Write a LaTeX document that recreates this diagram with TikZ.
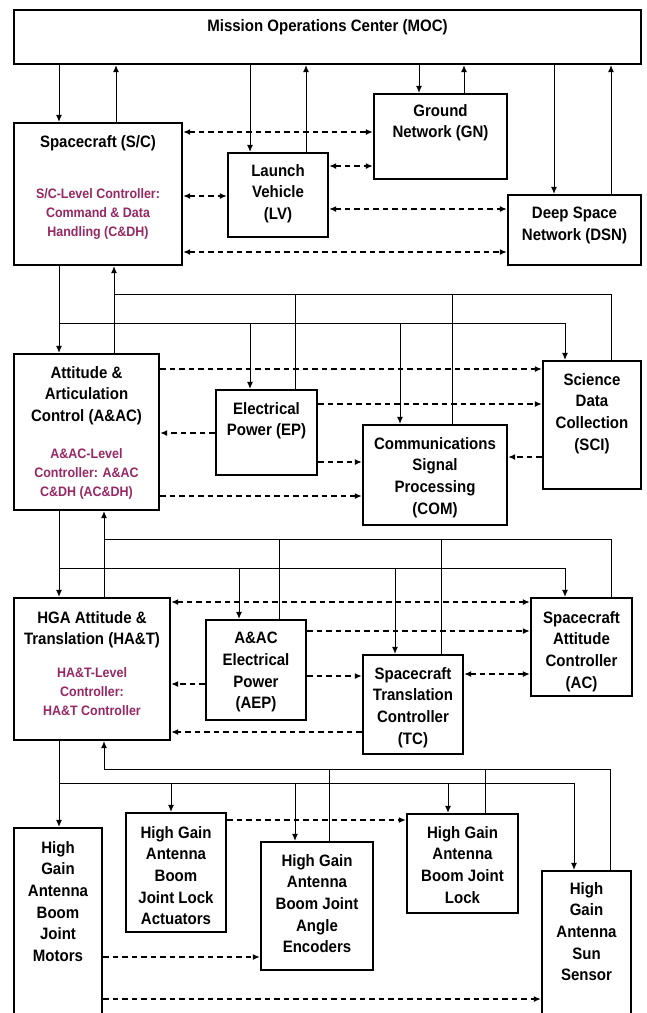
\documentclass[tikz,border=0pt]{standalone}
\usepackage{fontspec}
\setmainfont{Liberation Sans}[FakeStretch=0.91]
\usetikzlibrary{arrows.meta}
\definecolor{ctrlpurple}{RGB}{150,40,100}
\tikzset{
  blk/.style={draw, line width=2.3pt, inner sep=0pt},
  lbl/.style={font=\bfseries\fontsize{16.5}{21.7}\selectfont, align=center, inner sep=0pt, anchor=north},
  ctl/.style={font=\bfseries\fontsize{13.7}{19}\selectfont, text=ctrlpurple, align=center, inner sep=0pt, anchor=north},
  link/.style={line width=1pt, ->},
  wire/.style={line width=1pt},
  flow/.style={line width=1.5pt, dash pattern=on 5.5pt off 4pt},
}
% box from (x1,y1) to (x2,y2), y measured downwards
\newcommand{\blkbox}[5]{\node[blk, minimum width={#4-#2}, minimum height={#5-#3}] (#1) at ({(#2+#4)/2},{(#3+#5)/2}) {};}
\begin{document}
\begin{tikzpicture}[x=1pt, y=-1pt, >={Latex[length=7pt,width=6pt]}]
\clip (0,0) rectangle (646,1013);
\fill[white] (0,0) rectangle (646,1013);

% ---------- boxes ----------
\blkbox{moc}{14}{10}{641}{64}
\blkbox{sc}{14}{123}{182}{265}
\blkbox{lv}{228}{153}{328}{237}
\blkbox{gn}{374}{94}{507}{179}
\blkbox{dsn}{508}{195}{641}{265}
\blkbox{aa}{14}{354}{159}{510}
\blkbox{ep}{216}{390}{317}{475}
\blkbox{com}{363}{425}{507}{525}
\blkbox{sci}{543}{361}{641}{489}
\blkbox{hat}{14}{598}{170}{740}
\blkbox{aep}{206}{620}{306}{720}
\blkbox{tc}{363}{655}{463}{754}
\blkbox{ac}{531}{598}{632}{696}
\blkbox{mot}{14}{828}{102}{1030}
\blkbox{jla}{126}{813}{226}{932}
\blkbox{enc}{261}{842}{373}{970}
\blkbox{lock}{407}{814}{518}{913}
\blkbox{sun}{542}{871}{631}{1030}

% ---------- labels ----------
\node[lbl] (moct) at (moc.north |- 0,18.9) {Mission Operations Center (MOC)};
\node[lbl] (sct) at (sc.north |- 0,134.9) {Spacecraft (S/C)};
\node[ctl] (scc) at (sc.north |- 0,188) {S/C-Level Controller:\\Command \& Data\\Handling (C\&DH)};
\node[lbl] (lvt) at (lv.north |- 0,163.9) {Launch\\Vehicle\\(LV)};
\node[lbl] (gnt) at (gn.north |- 0,103.9) {Ground\\Network (GN)};
\node[lbl] (dsnt) at (dsn.north |- 0,206.9) {Deep Space\\Network (DSN)};
\node[lbl] (aat) at (aa.north |- 0,365.9) {Attitude \&\\Articulation\\Control (A\&AC)};
\node[ctl] (aac) at (aa.north |- 0,448) {A\&AC-Level\\Controller: A\&AC\\C\&DH (AC\&DH)};
\node[lbl] (ept) at (ep.north |- 0,401.9) {Electrical\\Power (EP)};
\node[lbl] (comt) at (com.north |- 0,436.9) {Communications\\Signal\\Processing\\(COM)};
\node[lbl] (scit) at (sci.north |- 0,372.9) {Science\\Data\\Collection\\(SCI)};
\node[lbl] (hatt) at (hat.north |- 0,610.9) {HGA Attitude \&\\Translation (HA\&T)};
\node[ctl] (hatc) at (hat.north |- 0,667) {HA\&T-Level\\Controller:\\HA\&T Controller};
\node[lbl] (aept) at (aep.north |- 0,631.9) {A\&AC\\Electrical\\Power\\(AEP)};
\node[lbl] (tct) at (tc.north |- 0,666.9) {Spacecraft\\Translation\\Controller\\(TC)};
\node[lbl] (act) at (ac.north |- 0,610.9) {Spacecraft\\Attitude\\Controller\\(AC)};
\node[lbl] (mott) at (mot.north |- 0,840.9) {High\\Gain\\Antenna\\Boom\\Joint\\Motors};
\node[lbl] (jlat) at (jla.north |- 0,825.9) {High Gain\\Antenna\\Boom\\Joint Lock\\Actuators};
\node[lbl] (enct) at (enc.north |- 0,853.9) {High Gain\\Antenna\\Boom Joint\\Angle\\Encoders};
\node[lbl] (lockt) at (lock.north |- 0,825.9) {High Gain\\Antenna\\Boom Joint\\Lock};
\node[lbl] (sunt) at (sun.north |- 0,881.9) {High\\Gain\\Antenna\\Sun\\Sensor};

% ---------- MOC links ----------
\draw[link] (59,0 |- moc.south) -- (59,0 |- sc.north);
\draw[link] (116,0 |- sc.north) -- (116,0 |- moc.south);
\draw[link] (250,0 |- moc.south) -- (250,0 |- lv.north);
\draw[link] (306,0 |- lv.north) -- (306,0 |- moc.south);
\draw[link] (419,0 |- moc.south) -- (419,0 |- gn.north);
\draw[link] (464,0 |- gn.north) -- (464,0 |- moc.south);
\draw[link] (554,0 |- moc.south) -- (554,0 |- dsn.north);
\draw[link] (611,0 |- dsn.north) -- (611,0 |- moc.south);

% ---------- spacecraft level data flows ----------
\draw[flow,<->] (sc.east |- 0,132) -- (gn.west |- 0,132);
\draw[flow,<->] (lv.east |- 0,166) -- (gn.west |- 0,166);
\draw[flow,<->] (sc.east |- 0,196) -- (lv.west |- 0,196);
\draw[flow,<->] (lv.east |- 0,209) -- (dsn.west |- 0,209);
\draw[flow,<->] (sc.east |- 0,252) -- (dsn.west |- 0,252);

% ---------- S/C to subsystems ----------
\coordinate (fbA) at (114,294);
\coordinate (cbA) at (59,323);
\draw[link] (59,0 |- sc.south) -- (59,0 |- aa.north);
\draw[link] (114,0 |- aa.north) -- (114,0 |- sc.south);
\draw[wire] (611,0 |- sci.north) |- (fbA);
\draw[wire] (295,0 |- ep.north) -- (fbA -| 295,0);
\draw[wire] (452,0 |- com.north) -- (fbA -| 452,0);
\draw[link] (cbA) -| (565,0 |- sci.north);
\draw[link] (cbA -| 250,0) -- (250,0 |- ep.north);
\draw[link] (cbA -| 400,0) -- (400,0 |- com.north);

\draw[flow,->] (aa.east |- 0,369) -- (sci.west |- 0,369);
\draw[flow,->] (ep.east |- 0,404) -- (sci.west |- 0,404);
\draw[flow,->] (ep.west |- 0,433) -- (aa.east |- 0,433);
\draw[flow,->] (ep.east |- 0,462) -- (com.west |- 0,462);
\draw[flow,->] (sci.west |- 0,457) -- (com.east |- 0,457);
\draw[flow,->] (aa.east |- 0,496) -- (com.west |- 0,496);

% ---------- A&AC to its subsystems ----------
\coordinate (fbB) at (104,539);
\coordinate (cbB) at (59,568);
\draw[link] (59,0 |- aa.south) -- (59,0 |- hat.north);
\draw[link] (104,0 |- hat.north) -- (104,0 |- aa.south);
\draw[wire] (611,0 |- ac.north) |- (fbB);
\draw[wire] (279,0 |- aep.north) -- (fbB -| 279,0);
\draw[wire] (441,0 |- tc.north) -- (fbB -| 441,0);
\draw[link] (cbB) -| (565,0 |- ac.north);
\draw[link] (cbB -| 239,0) -- (239,0 |- aep.north);
\draw[link] (cbB -| 395,0) -- (395,0 |- tc.north);

\draw[flow,<->] (hat.east |- 0,602) -- (ac.west |- 0,602);
\draw[flow,->] (aep.east |- 0,631) -- (ac.west |- 0,631);
\draw[flow,->] (aep.east |- 0,676) -- (tc.west |- 0,676);
\draw[flow,->] (aep.west |- 0,684) -- (hat.east |- 0,684);
\draw[flow,<->] (tc.east |- 0,674) -- (ac.west |- 0,674);
\draw[flow,->] (tc.west |- 0,732) -- (hat.east |- 0,732);

% ---------- HA&T to its devices ----------
\coordinate (fbC) at (104,769);
\coordinate (cbC) at (59,783);
\draw[link] (59,0 |- hat.south) -- (59,0 |- mot.north);
\draw[link] (fbC) -- (104,0 |- hat.south);
\draw[wire] (610,0 |- sun.north) |- (fbC);
\draw[wire] (329,0 |- enc.north) -- (fbC -| 329,0);
\draw[wire] (485,0 |- lock.north) -- (fbC -| 485,0);
\draw[link] (cbC) -| (574,0 |- sun.north);
\draw[link] (cbC -| 171,0) -- (171,0 |- jla.north);
\draw[link] (cbC -| 295,0) -- (295,0 |- enc.north);
\draw[link] (cbC -| 448,0) -- (448,0 |- lock.north);

\draw[flow,->] (jla.east |- 0,820) -- (lock.west |- 0,820);
\draw[flow,->] (mot.east |- 0,957) -- (enc.west |- 0,957);
\draw[flow,->] (mot.east |- 0,999) -- (sun.west |- 0,999);
\end{tikzpicture}
\end{document}
